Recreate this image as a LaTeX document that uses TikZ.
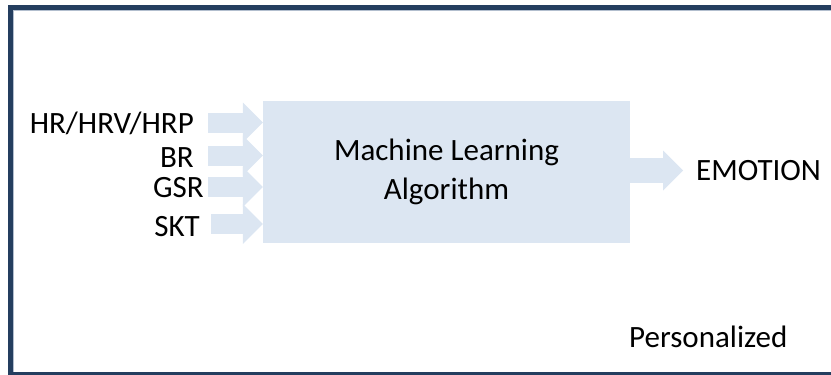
\documentclass[tikz,border=0pt]{standalone}
\usepackage{fontspec}
\setmainfont{Carlito}
\usetikzlibrary{arrows.meta,positioning}
\definecolor{framenavy}{RGB}{36,62,95}
\definecolor{frameshade}{RGB}{178,190,206}
\definecolor{boxblue}{RGB}{220,230,242}
\tikzset{
    labeltext/.style={inner sep=0pt, font=\fontsize{31}{39}\selectfont},
    mlbox/.style={fill=boxblue, minimum width=367pt, minimum height=142pt, inner sep=0pt, align=center, font=\fontsize{31}{39}\selectfont},
    inarrow/.style={draw=boxblue, line width=20pt, -{Triangle[length=20pt, width=40pt, line width=0pt]}},
    outarrow/.style={draw=boxblue, line width=25pt, -{Triangle[length=20pt, width=40pt, line width=0pt]}}
}

\begin{document}
\begin{tikzpicture}[x=1pt, y=-1pt]
    \useasboundingbox (0,0) rectangle (831,375);
    \clip (0,0) rectangle (831,375);

    % Frame
    \draw[framenavy, line width=5pt] (10.5,7.5) rectangle (850,374.5);
    \draw[frameshade, line width=1pt] (13.5,371.5) -- (13.5,10.5) -- (850,10.5);

    % Machine learning block
    \node[mlbox] (ml) at (446.5,172) {Machine Learning\\Algorithm};

    % Input signals
    \node[labeltext, anchor=base east] (hr) at (194,133) {HR/HRV/HRP};
    \node[labeltext, anchor=base east] (br) at (194,167) {BR};
    \node[labeltext, anchor=base east] (gsr) at (204,197) {GSR};
    \node[labeltext, anchor=base east] (skt) at (200,236) {SKT};

    \coordinate (in1) at (208,122.5);
    \coordinate (in2) at (208,155.5);
    \coordinate (in3) at (208,187);
    \coordinate (in4) at (211,224);
    \foreach \i in {1,...,4} {
        \draw[inarrow] (in\i) -- (ml.west |- in\i);
    }

    % Output
    \coordinate (outtip) at (683,170.5);
    \draw[outarrow] (ml.east |- outtip) -- (outtip);
    \node[labeltext, right=13pt of outtip] (emotion) {EMOTION};

    \node[labeltext, anchor=base west] (pers) at (629,347) {Personalized};
\end{tikzpicture}
\end{document}
